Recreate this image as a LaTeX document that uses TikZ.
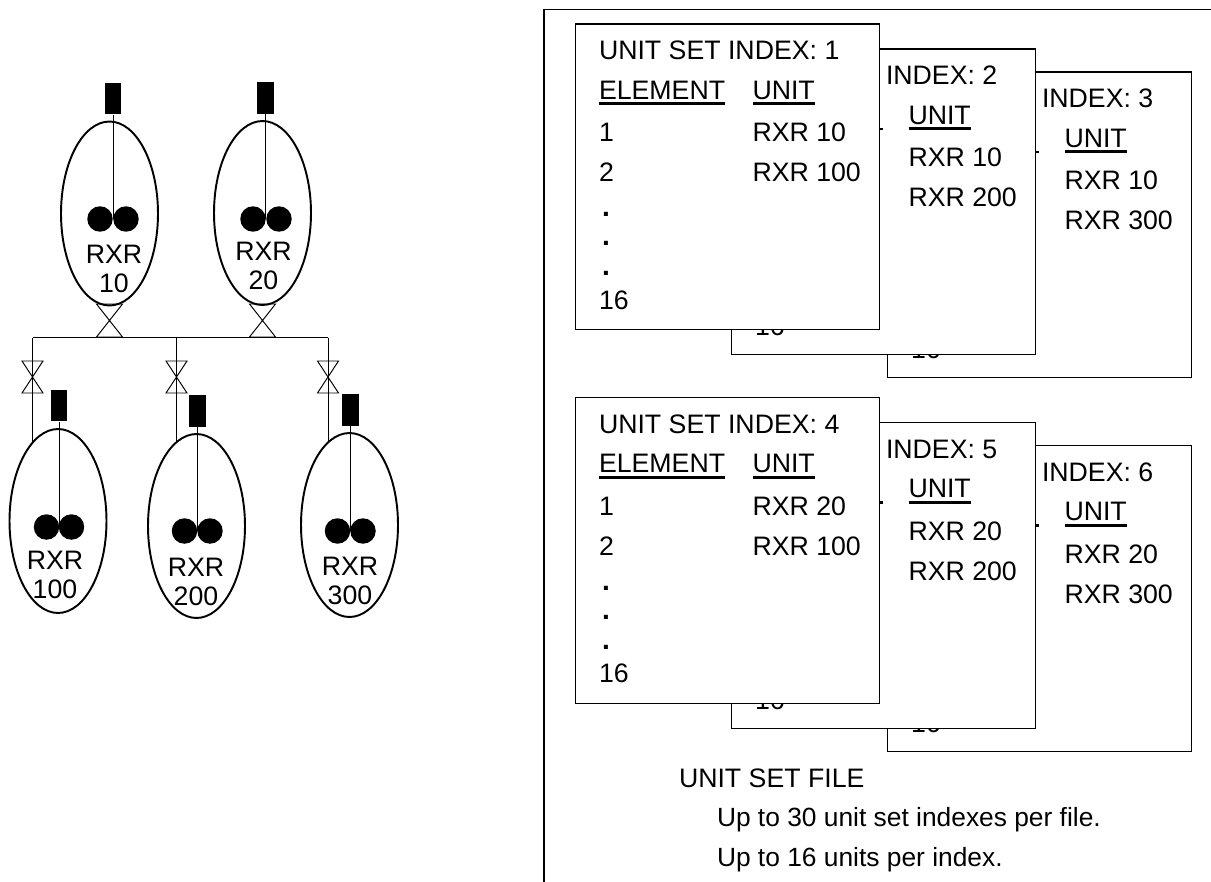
\documentclass[tikz,border=0pt]{standalone}
\usepackage{fontspec}
\setmainfont{Liberation Sans}
\usetikzlibrary{shapes.geometric, positioning}

\newcommand{\ulbox}[1]{\setbox0\hbox{#1}\rlap{\rule[-3.3pt]{\wd0}{1.6pt}}\box0}

\begin{document}
\begin{tikzpicture}[
    x=0.02cm, y=-0.02cm,
    every node/.style={font=\fontsize{15.2pt}{16.5pt}\selectfont},
    reactor/.style={ellipse, draw=black, line width=1.1pt, minimum width=1.94cm, minimum height=3.68cm, inner sep=0pt},
    motor/.style={rectangle, fill=black, minimum width=0.34cm, minimum height=0.64cm, inner sep=0pt},
    blade/.style={circle, fill=black, minimum size=0.51cm, inner sep=0pt},
    stem/.style={line width=0.55pt},
    pipe/.style={line width=0.55pt},
    valve/.style={rectangle, minimum width=0.42cm, minimum height=0.64cm, inner sep=0pt, outer sep=0pt},
    bigvalve/.style={valve, minimum width=0.52cm, minimum height=0.66cm},
    sheet/.style={rectangle, draw=black, fill=white, line width=0.6pt, minimum width=6.08cm, minimum height=6.12cm, inner sep=0pt, anchor=north west},
    txt/.style={anchor=base west, inner sep=0pt, outer sep=0pt},
    dotmark/.style={txt, font=\fontsize{16pt}{16pt}\selectfont\bfseries},
    notetxt/.style={txt, font=\fontsize{15pt}{16.5pt}\selectfont},
    rxrlabel/.style={align=center, inner sep=0pt},
    frameline/.style={line width=0.9pt}
]
\useasboundingbox (0,0) rectangle (1211,882);

% Reactors
\foreach \name/\cx/\cy/\mx/\my/\bla/\blb/\bly/\lx/\ly/\lbl in {
    r10/109.5/213.5/113/98.5/100/126/219/114/269/10,
    r20/262.5/213/265.5/98/253/279/219/263.5/266/20,
    r100/58/521/59/405.5/46.5/71.5/527/55/575/100,
    r200/196.5/526/197.5/411/184.5/210/531/196/582/200,
    r300/349.5/525/350.5/410/337.5/363/531/350/581/300} {
    \node (\name) [reactor] at (\cx,\cy) {};
    \node (\name m) [motor] at (\mx,\my) {};
    \node (\name a) [blade] at (\bla,\bly) {};
    \node (\name b) [blade] at (\blb,\bly) {};
    \draw [stem] (\name m.south) -- (\name m.south |- \name a.center);
    \node (\name t) [rxrlabel] at (\lx,\ly) {RXR\\\lbl};
}

% Header and valves
\coordinate (hl) at (32.5,337.5);
\coordinate (hm) at (176.5,337.5);
\coordinate (hr) at (328,337.5);
\node (v10) [bigvalve] at (109.5,320.5) {};
\node (v20) [bigvalve] at (262.5,320.5) {};
\node (v100) [valve] at (32.5,377) {};
\node (v200) [valve] at (176.5,377) {};
\node (v300) [valve] at (328,377) {};
\foreach \v in {v10, v20, v100, v200, v300} {
    \draw [pipe] (\v.north west) -- (\v.south east) -- (\v.south west) -- (\v.north east) -- cycle;
}
\draw [pipe] (hl) -- (hr);
\draw [pipe] (hl) -- (hl |- r100.108);
\draw [pipe] (hm) -- (hm |- r200.103);
\draw [pipe] (hr) -- (hr |- r300.105);

% Outer frame
\coordinate (fa) at (544,882);
\coordinate (fb) at (544,9.5);
\coordinate (fc) at (1211,9.5);
\draw [frameline] (fa) -- (fb) -- (fc);

% Unit set indexes, back to front
\foreach \set/\ox/\oy/\idx/\ua/\ub in {
    c/312/48/3/RXR 10/RXR 300,
    f/312/421.5/6/RXR 20/RXR 300,
    b/156/25/2/RXR 10/RXR 200,
    e/156/398.5/5/RXR 20/RXR 200} {
    \node (s\set) [sheet] at (574.7+\ox,23.5+\oy) {};
    \node (s\set i) [txt] at (730+\ox,60+\oy) {INDEX: \idx};
    \node (s\set h) [txt] at (752.5+\ox,99.3+\oy) {\ulbox{UNIT}};
    \node (s\set a) [txt] at (752.5+\ox,141.7+\oy) {\ua};
    \node (s\set b) [txt] at (752.5+\ox,181.7+\oy) {\ub};
    \node (s\set n) [txt] at (599+\ox,310.5+\oy) {16};
    \coordinate (s\set x) at (718+\ox,104+\oy);
    \coordinate (s\set y) at (726.5+\ox,104+\oy);
    \draw [line width=1.6pt] (s\set x) -- (s\set y);
}
\foreach \set/\oy/\idx/\ua/\ub in {
    a/0/1/RXR 10/RXR 100,
    d/373.5/4/RXR 20/RXR 100} {
    \node (s\set) [sheet] at (574.7,23.5+\oy) {};
    \node (s\set i) [txt] at (599,60+\oy) {UNIT SET INDEX: \idx};
    \node (s\set h) [txt] at (599,99.3+\oy) {\ulbox{ELEMENT}};
    \node (s\set u) [txt] at (752.5,99.3+\oy) {\ulbox{UNIT}};
    \node (s\set p) [txt] at (599,141.7+\oy) {1};
    \node (s\set q) [txt] at (599,181.7+\oy) {2};
    \node (s\set a) [txt] at (752.5,141.7+\oy) {\ua};
    \node (s\set b) [txt] at (752.5,181.7+\oy) {\ub};
    \node (s\set r) [dotmark] at (602,216.5+\oy) {.};
    \node (s\set s) [dotmark] at (602,245.5+\oy) {.};
    \node (s\set t) [dotmark] at (602,275.5+\oy) {.};
    \node (s\set n) [txt] at (599,309+\oy) {16};
}

% File notes
\node (ftitle) [txt] at (679,787) {UNIT SET FILE};
\node (fnote) [notetxt] at (717,826.5) {Up to 30 unit set indexes per file.};
\node (gnote) [notetxt] at (717,866.5) {Up to 16 units per index.};

\end{tikzpicture}
\end{document}
